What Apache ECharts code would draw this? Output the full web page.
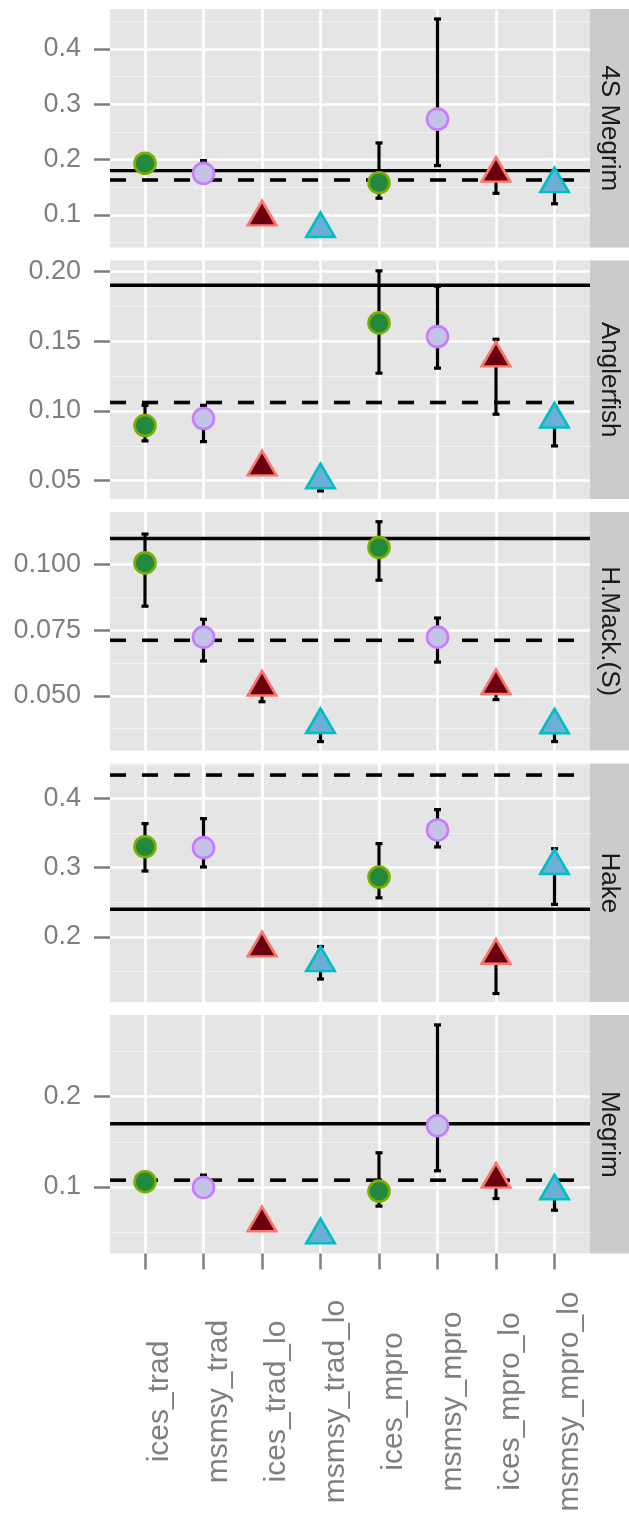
<!DOCTYPE html>
<html>
<head>
<meta charset="utf-8">
<script src="https://cdn.jsdelivr.net/npm/echarts@6/dist/echarts.min.js"></script>
<style>
  html, body { margin: 0; padding: 0; background: #ffffff; }
  #chart { width: 629px; height: 1520px; }
</style>
</head>
<body>
<div id="chart"></div>
<script>
// ---------------- DATA ----------------
const categories = ['ices_trad', 'msmsy_trad', 'ices_trad_lo', 'msmsy_trad_lo',
                    'ices_mpro', 'msmsy_mpro', 'ices_mpro_lo', 'msmsy_mpro_lo'];
const stocks = ['4S Megrim', 'Anglerfish', 'H.Mack.(S)', 'Hake', 'Megrim'];

const est4SMegrim = [0.193, 0.175, 0.095, 0.074, 0.158, 0.273, 0.174, 0.155];
const lo4SMegrim  = [0.187, 0.166, 0.090, 0.070, 0.130, 0.189, 0.139, 0.120];
const hi4SMegrim  = [0.199, 0.198, 0.100, 0.078, 0.230, 0.454, 0.185, 0.165];

const estAnglerfish = [0.0895, 0.0945, 0.0594, 0.0501, 0.163, 0.1532, 0.1374, 0.0937];
const loAnglerfish  = [0.0785, 0.0780, 0.0570, 0.0427, 0.127, 0.1306, 0.0976, 0.0749];
const hiAnglerfish  = [0.1040, 0.1040, 0.0630, 0.0530, 0.2003, 0.1893, 0.1513, 0.1000];

const estHMack = [0.1007, 0.0724, 0.0531, 0.0388, 0.1066, 0.0724, 0.0537, 0.0387];
const loHMack  = [0.0842, 0.0633, 0.0478, 0.0326, 0.0941, 0.0629, 0.0486, 0.0326];
const hiHMack  = [0.1117, 0.0792, 0.0560, 0.0410, 0.1164, 0.0797, 0.0560, 0.0410];

const estHake = [0.3304, 0.329, 0.183, 0.1616, 0.2865, 0.3546, 0.1723, 0.3022];
const loHake  = [0.2952, 0.301, 0.178, 0.139, 0.2565, 0.330, 0.118, 0.247];
const hiHake  = [0.3638, 0.371, 0.190, 0.186, 0.3348, 0.384, 0.180, 0.3275];

const estMegrim = [0.1056, 0.0993, 0.0593, 0.0459, 0.0952, 0.1678, 0.1077, 0.0949];
const loMegrim  = [0.1010, 0.0950, 0.0560, 0.0430, 0.0786, 0.1178, 0.0870, 0.0740];
const hiMegrim  = [0.1100, 0.1130, 0.0620, 0.0490, 0.1378, 0.2797, 0.1150, 0.1000];

const refSolid  = [0.180, 0.190, 0.110, 0.240, 0.170];
const refDashed = [0.163, 0.106, 0.0712, 0.434, 0.1074];

const yMin = [0.041, 0.0369, 0.0292, 0.1058, 0.026];
const yMax = [0.472, 0.2077, 0.1201, 0.4507, 0.2907];

const ticks4SMegrim  = ['0.1', '0.2', '0.3', '0.4'];
const ticksAnglerfish = ['0.05', '0.10', '0.15', '0.20'];
const ticksHMack     = ['0.050', '0.075', '0.100'];
const ticksHake      = ['0.2', '0.3', '0.4'];
const ticksMegrim    = ['0.1', '0.2'];

// ---------------- ASSEMBLY ----------------
const estAll = [est4SMegrim, estAnglerfish, estHMack, estHake, estMegrim];
const loAll  = [lo4SMegrim, loAnglerfish, loHMack, loHake, loMegrim];
const hiAll  = [hi4SMegrim, hiAnglerfish, hiHMack, hiHake, hiMegrim];
const tickAll = [ticks4SMegrim, ticksAnglerfish, ticksHMack, ticksHake, ticksMegrim];

const FONT = "'Liberation Sans', Arial, Helvetica, sans-serif";
const GREY = '#7f7f7f';
const PANEL_LEFT = 110, PANEL_RIGHT_EDGE = 590, STRIP_W = 39;
const TOP0 = 9, STEP = 251.5, H = 238.5;
const CAT_LEFT = 145, CAT_STEP = 58.5;

const groupStyles = [
  { symbol: 'circle',   size: 21, fill: '#23893f', stroke: '#7cae00' },
  { symbol: 'circle',   size: 21, fill: '#c3c3e5', stroke: '#c77cff' },
  { symbol: 'triangle', size: [28.5, 24.5], fill: '#6a000f', stroke: '#f8766d' },
  { symbol: 'triangle', size: [28.5, 24.5], fill: '#6baed6', stroke: '#00bfc4' }
];

const grids = [], xAxes = [], yAxes = [], series = [], graphics = [];

for (let p = 0; p < stocks.length; p++) {
  const top = TOP0 + p * STEP;
  const tickVals = tickAll[p].map(Number);
  const step = Math.round((tickVals[1] - tickVals[0]) * 1e6) / 1e6;
  const labelMap = {};
  tickAll[p].forEach(t => { labelMap[Number(t).toFixed(6)] = t; });
  const last = p === stocks.length - 1;

  // Grid A: panel background, y axis, reference lines
  const gA = grids.length;
  grids.push({ left: PANEL_LEFT, width: PANEL_RIGHT_EDGE - PANEL_LEFT, top: top, height: H,
               show: true, backgroundColor: '#e5e5e5', borderWidth: 0 });
  xAxes.push({ type: 'value', gridIndex: gA, min: 0, max: 1, show: false });
  yAxes.push({
    type: 'value', gridIndex: gA, min: yMin[p], max: yMax[p],
    minInterval: step, maxInterval: step,
    axisLine: { show: false },
    axisTick: { show: true, length: 16, lineStyle: { color: GREY, width: 2.5 }, customValues: tickVals },
    axisLabel: { show: true, customValues: tickVals, margin: 29, fontSize: 27, color: GREY, fontFamily: FONT,
                 formatter: v => labelMap[Number(v).toFixed(6)] || '' },
    splitLine: { show: true, lineStyle: { color: '#ffffff', width: 2.6 } },
    minorTick: { show: false, splitNumber: 2 },
    minorSplitLine: { show: true, lineStyle: { color: '#f2f2f2', width: 1.2 } }
  });

  // Grid B: categories (data marks)
  const gB = grids.length;
  grids.push({ left: CAT_LEFT, width: CAT_STEP * (categories.length - 1), top: top, height: H, show: false });
  xAxes.push({
    type: 'value', gridIndex: gB, min: 0, max: categories.length - 1, interval: 1,
    axisLine: { show: false },
    axisTick: { show: last, length: 16, lineStyle: { color: GREY, width: 2.5 } },
    axisLabel: { show: last, rotate: 90, margin: 148, fontSize: 30, color: GREY, fontFamily: FONT,
                 align: 'center', verticalAlign: 'top',
                 formatter: v => categories[Math.round(v)] || '' },
    splitLine: { show: true, lineStyle: { color: '#ffffff', width: 2.6 } }
  });
  yAxes.push({ type: 'value', gridIndex: gB, min: yMin[p], max: yMax[p], show: false, splitLine: { show: false } });

  const xA = xAxes.length - 2, yA = yAxes.length - 2, xB = xAxes.length - 1, yB = yAxes.length - 1;

  // reference lines
  series.push({
    type: 'line', xAxisIndex: xA, yAxisIndex: yA, symbol: 'none', z: 3, silent: true,
    data: [[0, refSolid[p]], [1, refSolid[p]]],
    lineStyle: { color: '#000000', width: 3.4 }
  });
  series.push({
    type: 'line', xAxisIndex: xA, yAxisIndex: yA, symbol: 'none', z: 3, silent: true,
    data: [[0, refDashed[p]], [1, refDashed[p]]],
    lineStyle: { color: '#000000', width: 3.6, type: [16, 16] }
  });

  // error bars
  series.push({
    type: 'custom', xAxisIndex: xB, yAxisIndex: yB, z: 4, silent: true,
    encode: { x: 0, y: [1, 2] },
    data: categories.map((c, i) => [i, loAll[p][i], hiAll[p][i]]),
    renderItem: (params, api) => {
      const x = api.value(0);
      const a = api.coord([x, api.value(2)]);
      const b = api.coord([x, api.value(1)]);
      const w = 3.5;
      const st = { stroke: '#000000', lineWidth: 3.2 };
      return { type: 'group', children: [
        { type: 'line', shape: { x1: a[0], y1: a[1], x2: b[0], y2: b[1] }, style: st },
        { type: 'line', shape: { x1: a[0] - w, y1: a[1], x2: a[0] + w, y2: a[1] }, style: st },
        { type: 'line', shape: { x1: b[0] - w, y1: b[1], x2: b[0] + w, y2: b[1] }, style: st }
      ] };
    }
  });

  // points
  groupStyles.forEach((g, gi) => {
    const data = [];
    for (let i = gi; i < categories.length; i += 4) data.push([i, estAll[p][i]]);
    const tri = g.symbol === 'triangle';
    series.push({
      type: 'scatter', xAxisIndex: xB, yAxisIndex: yB, z: 6, silent: true,
      symbol: g.symbol, symbolSize: g.size,
      symbolOffset: tri ? [0, -4.5] : [0, 0],
      itemStyle: { color: g.fill, borderColor: g.stroke, borderWidth: 2.6, opacity: 1 },
      data: data
    });
  });

  // facet strip
  graphics.push({
    type: 'rect', silent: true,
    shape: { x: PANEL_RIGHT_EDGE, y: top, width: STRIP_W, height: H },
    style: { fill: '#cbcbcb' }
  });
  graphics.push({
    type: 'text', silent: true,
    x: PANEL_RIGHT_EDGE + STRIP_W / 2, y: top + H / 2, rotation: -Math.PI / 2,
    style: { text: stocks[p], fontSize: 26, fontFamily: FONT, fill: '#1a1a1a',
             align: 'center', verticalAlign: 'middle' }
  });
}

const chart = echarts.init(document.getElementById('chart'), null, { renderer: 'canvas' });
chart.setOption({
  animation: false,
  backgroundColor: '#ffffff',
  grid: grids,
  xAxis: xAxes,
  yAxis: yAxes,
  series: series,
  graphic: graphics
});
</script>
</body>
</html>
